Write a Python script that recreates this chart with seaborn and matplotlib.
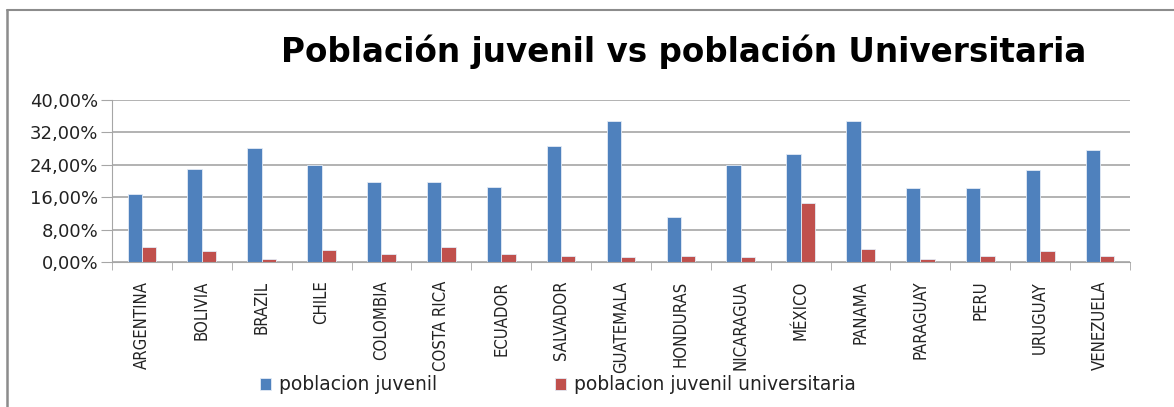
import numpy as np
import pandas as pd
import matplotlib
matplotlib.use('Agg')
import matplotlib.pyplot as plt
from matplotlib.ticker import FuncFormatter, FixedLocator
import seaborn as sns

paises = ['ARGENTINA', 'BOLIVIA', 'BRAZIL', 'CHILE', 'COLOMBIA', 'COSTA RICA', 'ECUADOR',
          'SALVADOR', 'GUATEMALA', 'HONDURAS', 'NICARAGUA', 'MÉXICO', 'PANAMA', 'PARAGUAY',
          'PERU', 'URUGUAY', 'VENEZUELA']
juvenil = [16.7, 23.0, 28.1, 23.9, 19.8, 19.8, 18.4, 28.7, 34.9, 11.1, 23.9, 26.6, 34.9,
           18.2, 18.2, 22.8, 27.6]
universitaria = [3.8, 2.8, 0.8, 3.0, 2.0, 3.8, 2.0, 1.5, 1.2, 1.5, 1.2, 14.5, 3.2,
                 0.8, 1.6, 2.6, 1.5]
series = ['poblacion juvenil', 'poblacion juvenil universitaria']

df = pd.DataFrame({
    'pais': paises * 2,
    'valor': juvenil + universitaria,
    'serie': [series[0]] * len(paises) + [series[1]] * len(paises),
})

sns.set_style('white')
plt.rcParams['font.family'] = ['DejaVu Sans']

fig = plt.figure(figsize=(11.74, 4.07), dpi=100)
ax = fig.add_axes([112 / 1174, 1 - 262 / 407, (1130 - 112) / 1174, (262 - 100) / 407])

sns.barplot(data=df, x='pais', y='valor', hue='serie', ax=ax, width=0.48, saturation=1,
            palette=['#4F81BD', '#C0504D'], edgecolor='#e3ebf5', linewidth=0.6,
            legend=True)

ax.set_ylim(0, 40)
ax.set_xlim(-0.5, len(paises) - 0.5)
ax.set_yticks(np.arange(0, 41, 8))
ax.yaxis.set_major_formatter(FuncFormatter(lambda v, p: f'{v:.2f}'.replace('.', ',') + '%'))
ax.grid(axis='y', color='#a6a6a6', linewidth=1.2)
ax.set_axisbelow(True)
for s in ['top', 'right']:
    ax.spines[s].set_visible(False)
ax.spines['left'].set_color('#a6a6a6')
ax.spines['bottom'].set_color('#a6a6a6')
ax.tick_params(axis='y', which='major', left=True, length=8, color='#a6a6a6',
               labelsize=13, pad=2, labelcolor='#222222')

ax.set_xticks(range(len(paises)))
ax.set_xticklabels(paises, rotation=90, fontsize=12, fontstretch='condensed',
                   color='#222222')
ax.tick_params(axis='x', which='major', bottom=False, pad=10)
ax.xaxis.set_minor_locator(FixedLocator(np.arange(-0.5, len(paises), 1)))
ax.tick_params(axis='x', which='minor', bottom=True, length=6, color='#a6a6a6')
ax.set_xlabel('')
ax.set_ylabel('')

handles, labels = ax.get_legend_handles_labels()
ax.get_legend().remove()
fig.legend(handles, labels, loc='center', bbox_to_anchor=(558 / 1174, 1 - 385 / 407),
           ncol=2, frameon=False, fontsize=13.5, handlelength=0.55, handleheight=0.55,
           columnspacing=6.3, handletextpad=0.45, labelcolor='#222222')

fig.text(684 / 1174, 1 - 52 / 407, 'Población juvenil vs población Universitaria',
         ha='center', va='center', fontsize=23.5, fontweight='bold', color='black')

# chart frame
fig.add_artist(plt.Line2D([7 / 1174, 7 / 1174], [0, 1 - 10 / 407], transform=fig.transFigure,
                          color='#8c8c8c', linewidth=1.8))
fig.add_artist(plt.Line2D([7 / 1174, 1], [1 - 10 / 407, 1 - 10 / 407], transform=fig.transFigure,
                          color='#8c8c8c', linewidth=1.5))

fig.savefig('out.png', dpi=100)
